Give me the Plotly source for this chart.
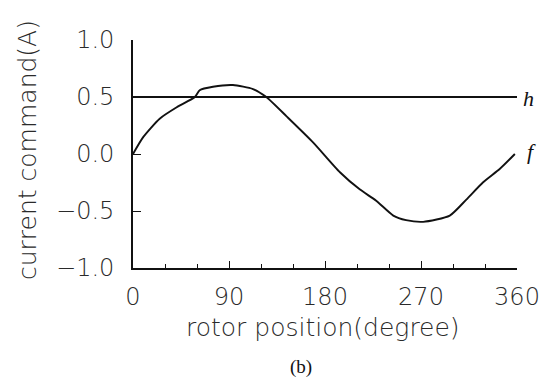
import plotly.graph_objects as go

# rotor position (degree) and current command f (A)
f_x = [0, 9.7, 25, 41, 58, 62.5, 75, 93.7, 112.5, 125, 144, 169, 194, 212.5, 228, 244, 256, 272, 297, 312.5, 328, 344, 358]
f_y = [0.0, 0.15, 0.31, 0.41, 0.50, 0.56, 0.59, 0.605, 0.57, 0.50, 0.33, 0.10, -0.16, -0.31, -0.41, -0.54, -0.58, -0.595, -0.54, -0.40, -0.25, -0.13, 0.0]
h_x = [0, 360]
h_y = [0.5, 0.5]
x_ticks = [0, 90, 180, 270, 360]
y_ticks = [-1.0, -0.5, 0.0, 0.5, 1.0]
y_ticktext = ["\u22121.0", "\u22120.5", "0.0", "0.5", "1.0"]

FONT = "DejaVu Sans, sans-serif"
TXT = "#2a2a2a"

fig = go.Figure()
fig.add_trace(go.Scatter(x=h_x, y=h_y, mode="lines", line=dict(color="#111", width=1.8), showlegend=False))
fig.add_trace(go.Scatter(x=f_x, y=f_y, mode="lines", line=dict(color="#111", width=1.9, shape="spline", smoothing=0.6), showlegend=False))

fig.update_layout(
    width=541, height=382,
    margin=dict(l=133, r=24, t=40, b=114),
    paper_bgcolor="white", plot_bgcolor="white",
    font=dict(family=FONT, size=24, color=TXT, weight=200),
)
fig.update_xaxes(
    range=[0, 360], tickvals=x_ticks, ticks="inside", ticklen=7, tickwidth=1.2, tickcolor="#111",
    showline=True, linecolor="#111", linewidth=1.6, showgrid=False, zeroline=False,
    ticklabelstandoff=6, ticklabeloverflow="allow", automargin=False,
    minor=dict(dtick=30, tick0=0, ticks="inside", ticklen=4, tickcolor="#111", showgrid=False),
)
fig.update_yaxes(
    range=[-1, 1], tickvals=y_ticks, ticktext=y_ticktext, ticks="inside", ticklen=8, tickwidth=1.2, tickcolor="#111",
    showline=True, linecolor="#111", linewidth=1.6, showgrid=False, zeroline=False,
    ticklabelstandoff=12, automargin=False,
)

fig.add_annotation(text="current command(A)", xref="paper", yref="paper", x=(27 - 133) / 384, y=(268 - 150) / 228,
                   textangle=-90, showarrow=False, xanchor="center", yanchor="middle",
                   font=dict(family=FONT, size=25, color=TXT, weight=200))
fig.add_annotation(text="rotor position(degree)", xref="paper", yref="paper", x=(323 - 133) / 384, y=(268 - 327) / 228,
                   showarrow=False, xanchor="center", yanchor="middle",
                   font=dict(family=FONT, size=25, color=TXT, weight=200))
fig.add_annotation(text="(b)", xref="paper", yref="paper", x=(301 - 133) / 384, y=(268 - 367) / 228,
                   showarrow=False, xanchor="center", yanchor="middle",
                   font=dict(family="Liberation Serif, serif", size=19, color="#111"))
fig.add_annotation(text="<i>h</i>", xref="paper", yref="y", x=(521 - 133) / 384, y=0.49,
                   showarrow=False, xanchor="left", yanchor="middle",
                   font=dict(family="Liberation Serif, serif", size=22, color="#111"))
fig.add_annotation(text="<i>f</i>", xref="paper", yref="y", x=(525 - 133) / 384, y=0.02,
                   showarrow=False, xanchor="left", yanchor="middle",
                   font=dict(family="Liberation Serif, serif", size=22, color="#111"))

fig.write_html("out.html")
